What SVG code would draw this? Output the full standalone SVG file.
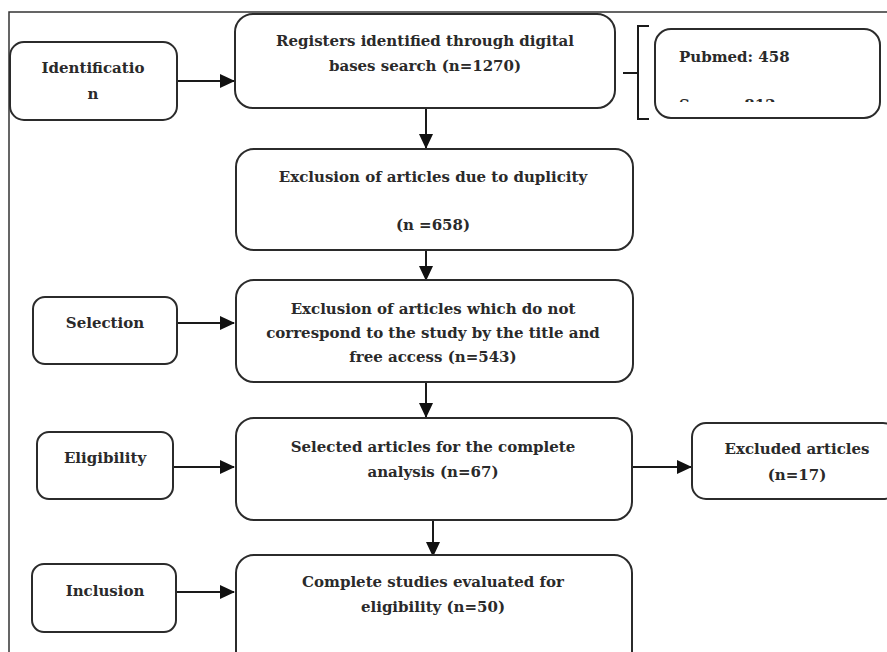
<svg xmlns="http://www.w3.org/2000/svg" width="887" height="652" viewBox="0 0 887 652">
<style>
.box{fill:#fff;stroke:#2b2b2b;stroke-width:2}
.t{font-family:"DejaVu Serif","Liberation Serif",serif;font-weight:bold;font-size:15px;fill:#2a2a2a;text-anchor:middle}
.c{stroke:#1a1a1a;stroke-width:2;fill:none}
</style>
<defs>
<marker id="ah" markerWidth="15" markerHeight="14" refX="14" refY="7" orient="auto" markerUnits="userSpaceOnUse">
<path d="M0,0 L15,7 L0,14 Z" fill="#111"/>
</marker>
<clipPath id="scl"><rect x="660" y="30" width="215" height="72"/></clipPath>
</defs>
<rect width="887" height="652" fill="#fff"/>
<path d="M9,652 V12 H887" fill="none" stroke="#333" stroke-width="1.5"/>

<g id="connectors">
<line class="c" x1="177" y1="81" x2="234" y2="81" marker-end="url(#ah)"/>
<line class="c" x1="426" y1="108" x2="426" y2="148" marker-end="url(#ah)"/>
<line class="c" x1="426" y1="250" x2="426" y2="280" marker-end="url(#ah)"/>
<line class="c" x1="177" y1="323" x2="234" y2="323" marker-end="url(#ah)"/>
<line class="c" x1="426" y1="382" x2="426" y2="417" marker-end="url(#ah)"/>
<line class="c" x1="173" y1="467" x2="234" y2="467" marker-end="url(#ah)"/>
<line class="c" x1="632" y1="467" x2="691" y2="467" marker-end="url(#ah)"/>
<line class="c" x1="433" y1="520" x2="433" y2="556" marker-end="url(#ah)"/>
<line class="c" x1="176" y1="592" x2="234" y2="592" marker-end="url(#ah)"/>
<path class="c" d="M649,26 H638 V119 H649 M638,73 H623" stroke-width="1.5"/>
</g>

<g id="identification">
<rect class="box" x="10" y="42" width="167" height="78" rx="14"/>
<text class="t" x="93" y="73">Identificatio</text>
<text class="t" x="93" y="99">n</text>
</g>

<g id="registers">
<rect class="box" x="235" y="14" width="380" height="94" rx="18" stroke-width="2.5"/>
<text class="t" x="425" y="46">Registers identified through digital</text>
<text class="t" x="425" y="71">bases search (n=1270)</text>
</g>

<g id="sources">
<rect class="box" x="655" y="29" width="225" height="89" rx="16"/>
<text class="t" x="679" y="62" style="text-anchor:start">Pubmed: 458</text>
<text class="t" x="679" y="110" style="text-anchor:start" clip-path="url(#scl)">Scopus:812</text>
</g>

<g id="duplicity">
<rect class="box" x="236" y="149" width="397" height="101" rx="18"/>
<text class="t" x="433" y="182">Exclusion of articles due to duplicity</text>
<text class="t" x="433" y="230">(n =658)</text>
</g>

<g id="selection">
<rect class="box" x="33" y="297" width="144" height="67" rx="12"/>
<text class="t" x="105" y="328">Selection</text>
</g>

<g id="exclusion-title">
<rect class="box" x="236" y="280" width="397" height="102" rx="18"/>
<text class="t" x="433" y="314">Exclusion of articles which do not</text>
<text class="t" x="433" y="338">correspond to the study by the title and</text>
<text class="t" x="433" y="362">free access (n=543)</text>
</g>

<g id="eligibility">
<rect class="box" x="37" y="432" width="136" height="67" rx="12"/>
<text class="t" x="105" y="463">Eligibility</text>
</g>

<g id="selected">
<rect class="box" x="236" y="418" width="396" height="102" rx="18"/>
<text class="t" x="433" y="452">Selected articles for the complete</text>
<text class="t" x="433" y="477">analysis (n=67)</text>
</g>

<g id="excluded">
<rect class="box" x="692" y="423" width="205" height="76" rx="14"/>
<text class="t" x="797" y="454">Excluded articles</text>
<text class="t" x="797" y="480">(n=17)</text>
</g>

<g id="inclusion">
<rect class="box" x="32" y="564" width="144" height="68" rx="12"/>
<text class="t" x="105" y="596">Inclusion</text>
</g>

<g id="complete">
<rect class="box" x="236" y="555" width="396" height="120" rx="18"/>
<text class="t" x="433" y="587">Complete studies evaluated for</text>
<text class="t" x="433" y="612">eligibility (n=50)</text>
</g>
</svg>
